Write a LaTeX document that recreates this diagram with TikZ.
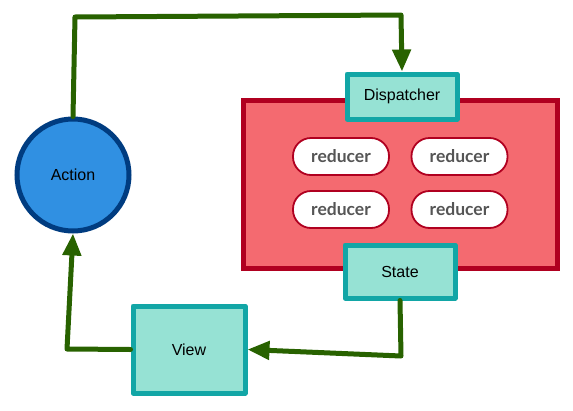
\documentclass[tikz,border=0pt]{standalone}
\usepackage{fontspec}
\setmainfont{Liberation Sans}
\newfontfamily\redfont{Lato}
\usetikzlibrary{arrows.meta}
\definecolor{flowgreen}{RGB}{40,98,0}
\definecolor{storefill}{RGB}{244,106,112}
\definecolor{storeline}{RGB}{176,0,32}
\definecolor{tealfill}{RGB}{150,226,212}
\definecolor{tealline}{RGB}{18,166,166}
\definecolor{bluefill}{RGB}{48,144,226}
\definecolor{blueline}{RGB}{0,60,128}
\definecolor{redtext}{RGB}{85,85,85}
\begin{document}
\begin{tikzpicture}[x=1pt,y=-1pt,
  lbl/.style={font=\fontsize{16}{19}\selectfont, text=black},
  tealbox/.style={draw=tealline, fill=tealfill, line width=5pt, line join=round, inner sep=0pt, lbl},
  store/.style={draw=storeline, fill=storefill, line width=5pt, inner sep=0pt},
  reducerbox/.style={draw=storeline, fill=white, line width=1.8pt, rounded corners=18pt,
     minimum width=96pt, minimum height=37pt, inner sep=0pt,
     font=\redfont\bfseries\fontsize{17.5}{20}\selectfont, text=redtext},
  actionnode/.style={circle, draw=blueline, fill=bluefill, line width=5pt, minimum size=112pt, inner sep=0pt, lbl},
  flow/.style={draw=flowgreen, line width=5pt, line cap=round, line join=round},
  flowarrow/.style={flow, -{Triangle[length=22pt,width=18pt]}}
]
\useasboundingbox (0,0) rectangle (573,410);
\node[store, minimum width=314pt, minimum height=168pt] (store) at (400,184) {};
\node[reducerbox] (r1) at (341,156.5) {reducer};
\node[reducerbox] (r2) at (459.5,156.5) {reducer};
\node[reducerbox] (r3) at (341,209.5) {reducer};
\node[reducerbox] (r4) at (459.5,209.5) {reducer};
\node[tealbox, minimum width=110pt, minimum height=45pt] (dispatcher) at (402,96.5) {Dispatcher};
\node[tealbox, minimum width=110pt, minimum height=53pt] (state) at (400,271.5) {State};
\node[tealbox, minimum width=112pt, minimum height=87pt] (view) at (189,349.5) {View};
\node[actionnode] (action) at (73,175) {Action};
\coordinate (c1) at (75,17);
\coordinate (c2) at (401,15);
\coordinate (c3) at (401,356);
\coordinate (c4) at (67,349);
\draw[flowarrow] (action.north) -- (c1) -- (c2) -- (dispatcher.north);
\draw[flowarrow] (state.south) -- (c3) -- (view.east);
\draw[flowarrow] (view.west) -- (c4) -- (action.south);
\end{tikzpicture}
\end{document}
